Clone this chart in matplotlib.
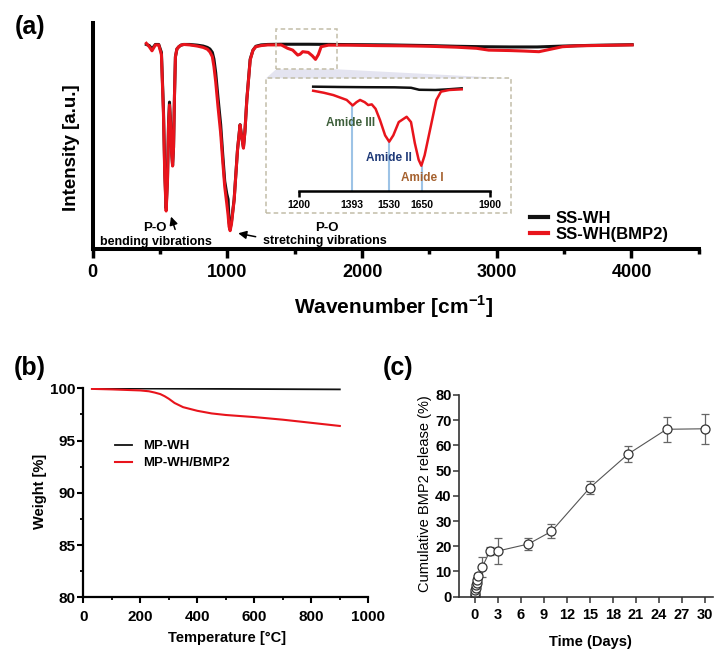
import matplotlib
matplotlib.use("Agg")
import matplotlib.pyplot as plt
from matplotlib.patches import Rectangle, Polygon

plt.rcParams["font.family"] = ["Liberation Sans", "DejaVu Sans"]
plt.rcParams["font.weight"] = "bold"
plt.rcParams["mathtext.fontset"] = "custom"
plt.rcParams["mathtext.bf"] = "Liberation Sans:bold"
plt.rcParams["mathtext.rm"] = "Liberation Sans:bold"

RED = "#e8141c"
BLK = "#111111"

# ---- (a) FTIR spectra (wavenumber, relative intensity) ----
red_wn = [398, 420, 440, 465, 490, 510, 525, 535, 545, 555, 563, 570, 578, 586, 593,
          600, 607, 614, 625, 639, 655, 676, 720, 776, 820, 851, 870, 888, 900, 913,
          930, 950, 965, 980, 995, 1005, 1012, 1020, 1030, 1050, 1075, 1094, 1105,
          1119, 1130, 1144, 1169, 1190, 1211, 1250, 1299, 1400, 1447, 1485, 1522,
          1540, 1559, 1600, 1630, 1654, 1675, 1696, 1750, 1900, 2100, 2300, 2500,
          2700, 2850, 2940, 3100, 3200, 3313, 3400, 3487, 3600, 3800, 4005]
red_int = [0.910, 0.895, 0.877, 0.903, 0.903, 0.86, 0.60, 0.32, 0.168, 0.30, 0.55,
           0.637, 0.55, 0.42, 0.367, 0.45, 0.68, 0.851, 0.885, 0.895, 0.902, 0.905,
           0.903, 0.898, 0.892, 0.884, 0.872, 0.851, 0.807, 0.74, 0.63, 0.512, 0.39,
           0.276, 0.202, 0.15, 0.10, 0.081, 0.11, 0.217, 0.438, 0.549, 0.50, 0.446,
           0.52, 0.659, 0.836, 0.88, 0.895, 0.900, 0.903, 0.903, 0.888, 0.88, 0.858,
           0.862, 0.873, 0.87, 0.855, 0.839, 0.86, 0.895, 0.902, 0.902, 0.900, 0.899,
           0.897, 0.893, 0.888, 0.880, 0.878, 0.876, 0.873, 0.884, 0.895, 0.899,
           0.901, 0.903]
blk_wn = [398, 420, 440, 465, 490, 510, 525, 535, 545, 555, 563, 570, 578, 586, 593,
          600, 607, 614, 625, 639, 655, 676, 720, 776, 820, 851, 870, 888, 900, 913,
          930, 950, 965, 980, 995, 1005, 1012, 1020, 1030, 1050, 1075, 1094, 1105,
          1119, 1130, 1144, 1169, 1190, 1211, 1250, 1299, 1400, 1600, 1800, 2000,
          2200, 2500, 2700, 2900, 3100, 3300, 3500, 3700, 4005]
blk_int = [0.905, 0.900, 0.885, 0.905, 0.905, 0.87, 0.62, 0.34, 0.18, 0.31, 0.56,
           0.65, 0.56, 0.43, 0.37, 0.45, 0.68, 0.85, 0.885, 0.895, 0.902, 0.905,
           0.905, 0.902, 0.898, 0.892, 0.885, 0.870, 0.84, 0.78, 0.67, 0.55, 0.42,
           0.30, 0.245, 0.22, 0.12, 0.09, 0.12, 0.22, 0.44, 0.55, 0.50, 0.45, 0.52,
           0.66, 0.84, 0.88, 0.897, 0.903, 0.905, 0.906, 0.906, 0.905, 0.904, 0.903,
           0.900, 0.897, 0.895, 0.894, 0.894, 0.898, 0.901, 0.904]

# inset: amide region
ins_red_wn = [1251, 1290, 1325, 1374, 1396, 1410, 1423, 1440, 1453, 1466, 1480, 1496,
              1515, 1530, 1545, 1565, 1594, 1610, 1624, 1638, 1648, 1660, 1685, 1703,
              1720, 1750, 1796]
ins_red = [0.903, 0.885, 0.864, 0.82, 0.77, 0.80, 0.82, 0.80, 0.774, 0.78, 0.74, 0.64,
           0.50, 0.443, 0.50, 0.62, 0.668, 0.62, 0.43, 0.28, 0.226, 0.32, 0.61, 0.82,
           0.895, 0.91, 0.916]
ins_blk_wn = [1251, 1350, 1450, 1550, 1610, 1640, 1700, 1740, 1796]
ins_blk = [0.94, 0.937, 0.935, 0.934, 0.930, 0.912, 0.910, 0.915, 0.925]
amide_pos = [1393, 1530, 1650]
amide_int = [0.77, 0.443, 0.226]
amide_names = ["Amide III", "Amide II", "Amide I"]
amide_colors = ["#3d5e3a", "#1f3a78", "#a5612e"]
amide_text_xy = [(1388, 0.615), (1530, 0.293), (1652, 0.112)]

# ---- (b) TGA ----
tga_t = [30, 100, 200, 900]
tga_mp = [100.0, 100.0, 99.98, 99.9]
tga_bmp_t = [30, 100, 200, 230, 250, 270, 285, 300, 320, 350, 400, 450, 500, 600,
             700, 800, 900]
tga_bmp = [99.95, 99.9, 99.8, 99.72, 99.6, 99.45, 99.25, 99.0, 98.6, 98.2, 97.85,
           97.6, 97.45, 97.25, 97.0, 96.7, 96.4]

# ---- (c) release ----
days = [0, 0.02, 0.04, 0.08, 0.125, 0.17, 0.25, 0.33, 0.5, 1, 2, 3, 7, 10, 15, 20,
        25, 30]
release = [0, 0.7, 1.5, 2.5, 3.5, 4.5, 5.5, 6.8, 8.3, 11.8, 18.2, 18.1, 20.9, 25.9,
           43.2, 56.6, 66.4, 66.6]
release_err = [0, 0.3, 0.4, 0.5, 0.6, 0.7, 0.8, 1.0, 1.2, 3.9, 1.6, 5.0, 2.2, 2.8,
               2.6, 3.3, 5.0, 6.0]

fig = plt.figure(figsize=(7.25, 6.57), dpi=100)

# ================= (a) =================
ax = fig.add_axes([0.1279, 0.621, 0.836, 0.344])
ax.plot(blk_wn, blk_int, color=BLK, lw=2.2, label="SS-WH", zorder=3)
ax.plot(red_wn, red_int, color=RED, lw=2.2, label="SS-WH(BMP2)", zorder=4)
ax.set_xlim(0, 4500)
ax.set_ylim(0, 1)
for s in ("top", "right"):
    ax.spines[s].set_visible(False)
ax.spines["left"].set_linewidth(2.9)
ax.spines["bottom"].set_linewidth(2.9)
ax.set_yticks([])
ax.set_xticks([0, 1000, 2000, 3000, 4000])
ax.set_xticks([500, 1500, 2500, 3500, 4500], minor=True)
ax.tick_params(axis="x", which="major", length=6.5, width=2.5, labelsize=13, pad=4)
ax.tick_params(axis="x", which="minor", length=3.6, width=2.5)

# zoom boxes
ax.add_patch(Polygon([(1361, 0.795), (1816, 0.795), (3107, 0.755), (1286, 0.755)],
                     closed=True, facecolor="#e4e4f0", edgecolor="none", zorder=1))
ax.add_patch(Rectangle((1361, 0.795), 455, 0.177, fill=False, ls=(0, (3, 2)),
                       lw=1.1, edgecolor="#c2bda8", zorder=5))
ax.add_patch(Rectangle((1286, 0.158), 1821, 0.597, fill=False, ls=(0, (3, 2)),
                       lw=1.1, edgecolor="#c2bda8", zorder=5))

ax.text(465, 0.093, "P-O", ha="center", va="center", fontsize=9.5)
ax.text(470, 0.031, "bending vibrations", ha="center", va="center", fontsize=9)
ax.text(1735, 0.093, "P-O", ha="center", va="center", fontsize=9.5)
ax.text(1727, 0.035, "stretching vibrations", ha="center", va="center", fontsize=9)
ax.annotate("", xy=(575, 0.155), xytext=(618, 0.075),
            arrowprops=dict(arrowstyle="-|>", color="black", lw=1.1,
                            mutation_scale=12))
ax.annotate("", xy=(1060, 0.072), xytext=(1230, 0.052),
            arrowprops=dict(arrowstyle="-|>", color="black", lw=1.1,
                            mutation_scale=12))
ax.legend(loc="center left", bbox_to_anchor=(0.722, 0.10), frameon=False,
          fontsize=12, handlelength=1.05, handletextpad=0.45, labelspacing=0.05,
          borderpad=0, borderaxespad=0)
for line in ax.get_legend().get_lines():
    line.set_linewidth(3)

fig.text(0.0993, 0.7755, "Intensity [a.u.]", rotation=90, ha="center", va="center",
         fontsize=13.5)
fig.text(0.5434, 0.533, r"Wavenumber [cm$^{\mathbf{-1}}$]", ha="center", va="center",
         fontsize=15)
fig.text(0.041, 0.959, "(a)", ha="center", va="center", fontsize=18,
         fontweight="bold")

# inset
axi = fig.add_axes([0.4128, 0.7097, 0.2631, 0.1685])
axi.patch.set_alpha(0)
axi.plot(ins_blk_wn, ins_blk, color=BLK, lw=1.8, zorder=3)
axi.plot(ins_red_wn, ins_red, color=RED, lw=1.8, zorder=4)
axi.vlines(amide_pos, 0, amide_int, color="#9dc3e6", lw=1.5, zorder=2)
for name, col, (tx, ty) in zip(amide_names, amide_colors, amide_text_xy):
    axi.text(tx, ty, name, color=col, ha="center", va="center", fontsize=8.5)
axi.set_xlim(1200, 1900)
axi.set_ylim(0, 1)
for s in ("top", "right", "left"):
    axi.spines[s].set_visible(False)
axi.spines["bottom"].set_linewidth(1.8)
axi.set_yticks([])
axi.set_xticks([1200, 1393, 1530, 1650, 1900])
axi.tick_params(axis="x", length=4.5, width=1.8, labelsize=7.5, pad=2)
for t in axi.xaxis.get_major_ticks()[1:4]:
    t.tick1line.set_visible(False)

# ================= (b) =================
axb = fig.add_axes([0.115, 0.0909, 0.393, 0.318])
axb.plot(tga_t, tga_mp, color=BLK, lw=1.3, label="MP-WH")
axb.plot(tga_bmp_t, tga_bmp, color=RED, lw=1.5, label="MP-WH/BMP2")
axb.set_xlim(0, 1000)
axb.set_ylim(80, 100)
for s in ("top", "right"):
    axb.spines[s].set_visible(False)
for s in ("left", "bottom"):
    axb.spines[s].set_linewidth(1.6)
axb.set_xticks([0, 200, 400, 600, 800, 1000])
axb.set_xticks([100, 300, 500, 700, 900], minor=True)
axb.set_yticks([80, 85, 90, 95, 100])
axb.set_yticks([82.5, 87.5, 92.5, 97.5], minor=True)
axb.tick_params(which="major", length=4, width=1.5, labelsize=11)
axb.tick_params(which="minor", length=2.5, width=1.3)
axb.tick_params(axis="x", pad=5)
axb.tick_params(axis="y", pad=1.5)
axb.legend(loc="center left", bbox_to_anchor=(0.111, 0.683), frameon=False,
           fontsize=9.5, handlelength=1.3, handletextpad=0.85, labelspacing=0.35,
           borderpad=0, borderaxespad=0)
fig.text(0.0552, 0.2516, "Weight [%]", rotation=90, ha="center", va="center",
         fontsize=10.5)
fig.text(0.3127, 0.0285, "Temperature [°C]", ha="center", va="center", fontsize=10.5)
fig.text(0.041, 0.44, "(b)", ha="center", va="center", fontsize=18,
         fontweight="bold")

# ================= (c) =================
axc = fig.add_axes([0.6335, 0.0918, 0.3495, 0.307])
axc.errorbar(days, release, yerr=release_err, color="#555555", lw=0.8,
             ecolor="#666666", elinewidth=0.9, capsize=3, capthick=0.9,
             marker="o", ms=6.5, mfc="white", mec="#333333", mew=0.9)
axc.set_xlim(-2, 31)
axc.set_ylim(0, 80)
for s in ("top", "right"):
    axc.spines[s].set_visible(False)
for s in ("left", "bottom"):
    axc.spines[s].set_linewidth(1.2)
    axc.spines[s].set_color("#333333")
axc.set_xticks(range(0, 31, 3))
axc.set_yticks(range(0, 81, 10))
axc.tick_params(length=4, width=1.1, labelsize=10.5, color="#333333")
axc.tick_params(axis="x", pad=4)
axc.tick_params(axis="y", pad=1.5)
fig.text(0.5862, 0.2491, "Cumulative BMP2 release (%)", rotation=90, ha="center",
         va="center", fontsize=10.5, fontweight="normal")
fig.text(0.8138, 0.0233, "Time (Days)", ha="center", va="center", fontsize=10.5)
fig.text(0.549, 0.44, "(c)", ha="center", va="center", fontsize=18,
         fontweight="bold")

fig.savefig("out.png", dpi=100)
